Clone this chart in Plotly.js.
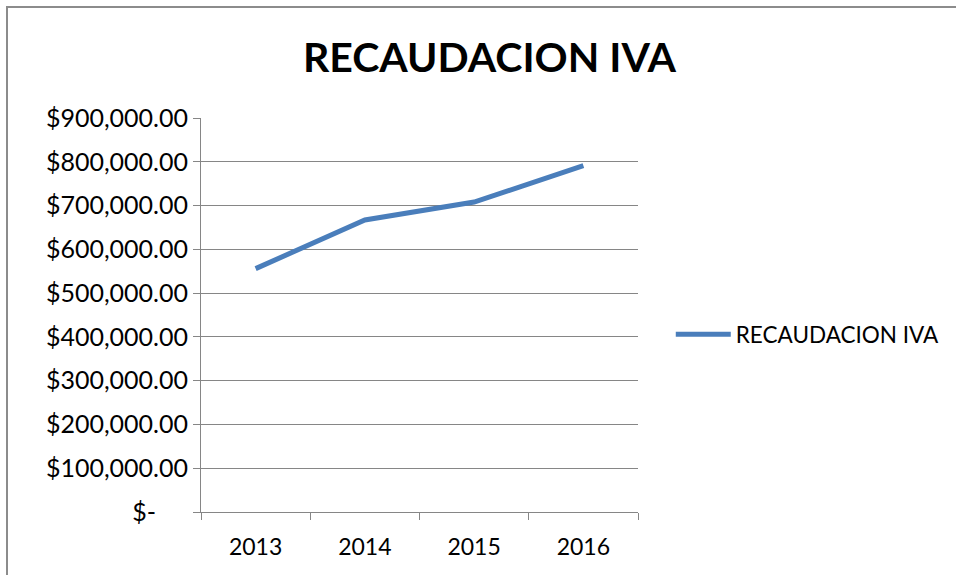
<!DOCTYPE html>
<html>
<head>
<meta charset="utf-8">
<script src="https://cdn.plot.ly/plotly-3.0.1.min.js"></script>
<style>
  html, body { margin: 0; padding: 0; background: #fff; overflow: hidden; }
  #chart { width: 956px; height: 575px; position: absolute; left: 0; top: 0; }
  #frame { position: absolute; left: 6px; top: 6px; width: 1200px; height: 1200px; border-left: 2px solid #8c8c8c; border-top: 2px solid #8c8c8c; pointer-events: none; }
</style>
</head>
<body>
<div id="chart"></div>
<div id="frame"></div>
<script>
const years = ["2013", "2014", "2015", "2016"];
const recaudacion = [556000, 667000, 708000, 791000];
const yTickVals = [0, 100000, 200000, 300000, 400000, 500000, 600000, 700000, 800000, 900000];
const yTickText = ["$-\u00a0\u00a0\u00a0\u00a0\u00a0", "$100,000.00", "$200,000.00", "$300,000.00", "$400,000.00", "$500,000.00", "$600,000.00", "$700,000.00", "$800,000.00", "$900,000.00"];
const seriesName = "RECAUDACION IVA";
const chartTitle = "RECAUDACION IVA";

const font = "Lato, 'Open Sans', sans-serif";

Plotly.newPlot("chart", [{
  x: years,
  y: recaudacion,
  type: "scatter",
  mode: "lines",
  name: seriesName,
  line: { color: "#4A7EBB", width: 5 }
}], {
  width: 956,
  height: 575,
  margin: { l: 201, r: 318, t: 118, b: 63, autoexpand: false },
  paper_bgcolor: "rgba(0,0,0,0)",
  plot_bgcolor: "#fff",
  title: {
    text: "<b>" + chartTitle + "</b>",
    font: { family: font, size: 41, color: "#000" },
    x: 0.512, xanchor: "center",
    y: 0.9, yanchor: "middle", yref: "container"
  },
  showlegend: true,
  legend: {
    x: 1.075, xanchor: "left",
    y: 0.45, yanchor: "middle",
    font: { family: font, size: 22.5, color: "#000" },
    bgcolor: "rgba(0,0,0,0)",
    itemwidth: 55
  },
  xaxis: {
    type: "category",
    tickson: "boundaries",
    ticks: "outside",
    ticklen: 7,
    tickcolor: "#868686",
    showline: true,
    linecolor: "#868686",
    linewidth: 1,
    showgrid: false,
    zeroline: false,
    tickfont: { family: font, size: 23, color: "#000" },
    ticklabelstandoff: 14,
    range: [-0.5, 3.5],
    fixedrange: true
  },
  yaxis: {
    range: [0, 900000],
    tickvals: yTickVals,
    ticktext: yTickText,
    ticks: "outside",
    ticklen: 7,
    tickcolor: "#868686",
    showline: true,
    linecolor: "#868686",
    linewidth: 1,
    showgrid: true,
    gridcolor: "#868686",
    gridwidth: 1,
    zeroline: false,
    tickfont: { family: font, size: 25, color: "#000" },
    ticklabelstandoff: 0,
    fixedrange: true
  }
}, { displayModeBar: false, staticPlot: true });
</script>
</body>
</html>
